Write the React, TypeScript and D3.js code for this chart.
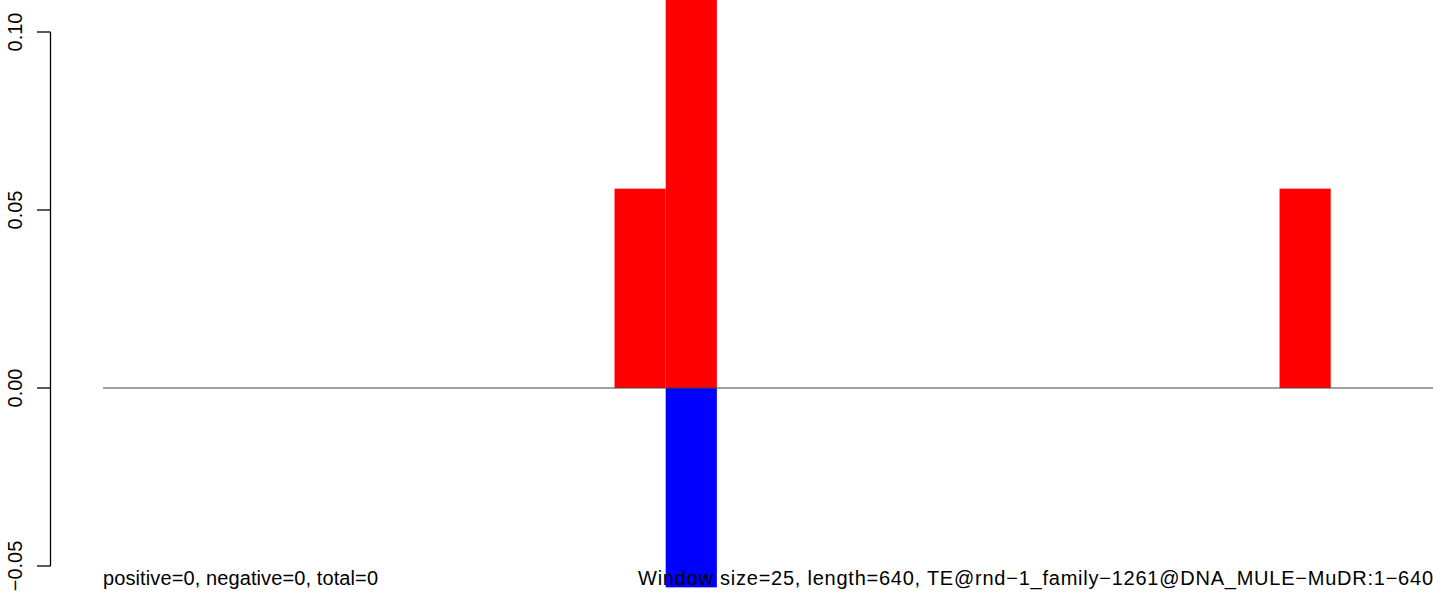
import React from "react";
import * as d3 from "d3";

const windowStarts = [250, 275, 575];
const positiveValues = [0.056, 0.115, 0.056];
const negativeStarts = [275];
const negativeValues = [-0.056];
const yTicks = [-0.05, 0, 0.05, 0.1];
const yTickLabels = ["\u22120.05", "0.00", "0.05", "0.10"];
const windowSize = 25;
const leftText = "positive=0, negative=0, total=0";
const rightText = "Window size=25, length=640, TE@rnd\u22121_family\u22121261@DNA_MULE\u2212MuDR:1\u2212640";

export default function App() {
  const W = 1433, H = 594;
  const x = d3.scaleLinear().domain([0, 650]).range([103, 1433]);
  const y = d3.scaleLinear().domain([-0.05, 0.1]).range([566, 32]);
  const font = "'Liberation Sans', Arial, Helvetica, sans-serif";
  return (
    <svg width={W} height={H} style={{ position: "absolute", left: 0, top: 0, background: "#fff" }}>
      {windowStarts.map((s, i) => (
        <rect key={"p" + i} x={x(s)} width={x(s + windowSize) - x(s)}
          y={y(positiveValues[i])} height={y(0) - y(positiveValues[i])} fill="#ff0000" />
      ))}
      {negativeStarts.map((s, i) => (
        <rect key={"n" + i} x={x(s)} width={x(s + windowSize) - x(s)}
          y={y(0)} height={y(negativeValues[i]) - y(0)} fill="#0000ff" />
      ))}
      <line x1={x(0)} x2={x(650)} y1={y(0)} y2={y(0)} stroke="#444" strokeWidth={1} />
      <line x1={50.5} x2={50.5} y1={y(0.1)} y2={y(-0.05)} stroke="#000" strokeWidth={1.3} />
      {yTicks.map((t, i) => (
        <g key={"t" + i}>
          <line x1={37} x2={50.5} y1={y(t)} y2={y(t)} stroke="#000" strokeWidth={1.3} />
          <text transform={`translate(22,${y(t)}) rotate(-90)`} textAnchor="middle"
            fontFamily={font} fontSize={20} fill="#000">{yTickLabels[i]}</text>
        </g>
      ))}
      <text x={103} y={585} fontFamily={font} fontSize={20} fill="#000" textLength={275} lengthAdjust="spacing">{leftText}</text>
      <text x={638} y={585} fontFamily={font} fontSize={20} fill="#000" textLength={795} lengthAdjust="spacing">{rightText}</text>
    </svg>
  );
}
